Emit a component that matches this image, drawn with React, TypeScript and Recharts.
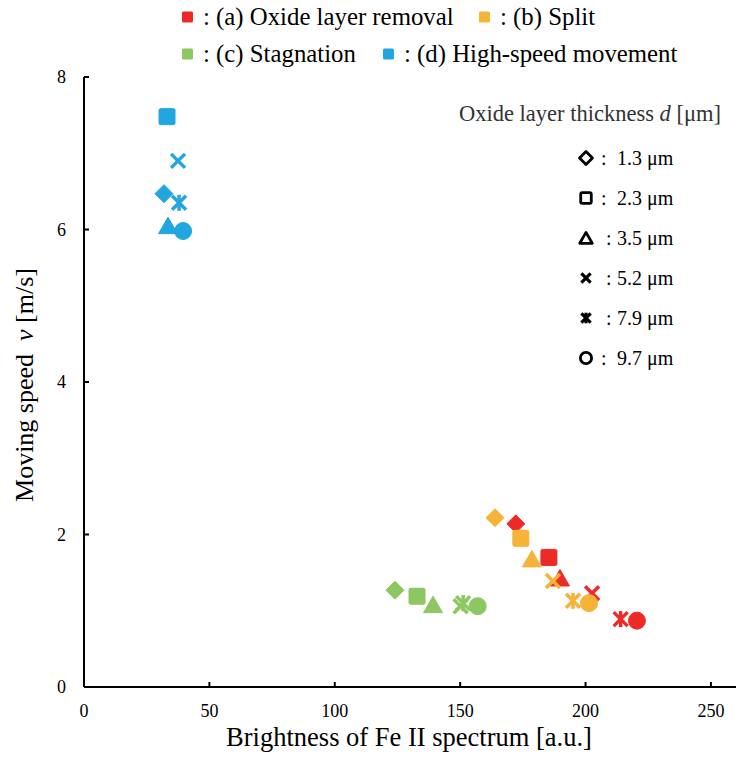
import { Scatter, ScatterChart, XAxis, YAxis } from 'recharts'

// Oxide layer thickness d [um], one marker shape per thickness
const THICKNESS = ['1.3', '2.3', '3.5', '5.2', '7.9', '9.7']
const MARKERS = ['diamond', 'square', 'triangle', 'x', 'star', 'circle']

// (a) Oxide layer removal
const removalX = [172.2, 185.4, 189.8, 202.6, 214, 220.5]
const removalY = [2.14, 1.7, 1.43, 1.23, 0.89, 0.87]
// (b) Split
const splitX = [163.9, 174.2, 178.6, 187, 195, 201.4]
const splitY = [2.22, 1.95, 1.68, 1.39, 1.13, 1.1]
// (c) Stagnation
const stagnationX = [124, 132.8, 139.2, 150.2, 151.2, 157]
const stagnationY = [1.27, 1.19, 1.08, 1.06, 1.1, 1.06]
// (d) High-speed movement
const highSpeedX = [31.9, 33.1, 33.5, 37.5, 37.9, 39.5]
const highSpeedY = [6.47, 7.48, 6.05, 6.9, 6.35, 5.98]

const X_TICKS = [0, 50, 100, 150, 200, 250]
const Y_TICKS = [0, 2, 4, 6, 8]

const FONT = '"Liberation Serif", "Times New Roman", serif'

const GROUPS = [
  { label: '(a) Oxide layer removal', color: '#ee2a26', xs: removalX, ys: removalY },
  { label: '(b) Split', color: '#f5b337', xs: splitX, ys: splitY },
  { label: '(c) Stagnation', color: '#8cc762', xs: stagnationX, ys: stagnationY },
  { label: '(d) High-speed movement', color: '#22a6df', xs: highSpeedX, ys: highSpeedY },
]

const toPoints = (xs: number[], ys: number[]) =>
  xs.map((x, i) => ({ x, y: ys[i], marker: MARKERS[i] }))

// draws one marker; hollow is used for the black legend symbols
function drawMarker(kind: string, cx: number, cy: number, color: string, s = 1, hollow = false) {
  const fill = hollow ? '#fff' : color
  const sw = hollow ? 2.8 : 1
  switch (kind) {
    case 'diamond':
      return (
        <polygon
          points={`${cx},${cy - 9 * s} ${cx + 9 * s},${cy} ${cx},${cy + 9 * s} ${cx - 9 * s},${cy}`}
          fill={fill} stroke={color} strokeWidth={sw} strokeLinejoin='round'
        />
      )
    case 'square':
      return (
        <rect x={cx - 8 * s} y={cy - 8 * s} width={16 * s} height={16 * s} rx={1.5}
          fill={fill} stroke={color} strokeWidth={sw} />
      )
    case 'triangle':
      return (
        <polygon
          points={`${cx},${cy - 8.5 * s} ${cx + 9.5 * s},${cy + 8 * s} ${cx - 9.5 * s},${cy + 8 * s}`}
          fill={fill} stroke={color} strokeWidth={sw} strokeLinejoin='round'
        />
      )
    case 'x':
      return (
        <g stroke={color} strokeWidth={3.5 * Math.max(s, 0.9)}>
          <line x1={cx - 7 * s} y1={cy - 7 * s} x2={cx + 7 * s} y2={cy + 7 * s} />
          <line x1={cx - 7 * s} y1={cy + 7 * s} x2={cx + 7 * s} y2={cy - 7 * s} />
        </g>
      )
    case 'star':
      return (
        <g stroke={color} strokeWidth={3.5 * Math.max(s, 0.9)}>
          <line x1={cx - 7 * s} y1={cy - 7 * s} x2={cx + 7 * s} y2={cy + 7 * s} />
          <line x1={cx - 7 * s} y1={cy + 7 * s} x2={cx + 7 * s} y2={cy - 7 * s} />
          <line x1={cx} y1={cy - 8 * s} x2={cx} y2={cy + 8 * s} />
        </g>
      )
    default:
      return <circle cx={cx} cy={cy} r={8.5 * s} fill={fill} stroke={color} strokeWidth={sw} />
  }
}

const XTick = (props: any) => {
  const { x, y, payload } = props
  return (
    <g>
      <line x1={x} x2={x} y1={y} y2={y - 5} stroke='#000' strokeWidth={2} />
      <text x={x} y={y + 30} textAnchor='middle' fontSize={18} fontFamily={FONT} fill='#000'>
        {payload.value}
      </text>
    </g>
  )
}

const YTick = (props: any) => {
  const { x, y, payload } = props
  return (
    <g>
      <line x1={x} x2={x + 5} y1={y} y2={y} stroke='#000' strokeWidth={2} />
      <text x={x - 18} y={y + 6} textAnchor='end' fontSize={18} fontFamily={FONT} fill='#000'>
        {payload.value}
      </text>
    </g>
  )
}

export default function App() {
  return (
    <div style={{ position: 'absolute', left: 0, top: 0, width: 736, height: 763, background: '#fff' }}>
      <ScatterChart width={736} height={763} margin={{ top: 77, right: 0, bottom: 0, left: 0 }}>
        <XAxis
          type='number' dataKey='x' domain={[0, 260]} ticks={X_TICKS}
          tick={<XTick />} tickLine={false} tickSize={0} tickMargin={0} height={76}
          axisLine={{ stroke: '#000', strokeWidth: 2 }} allowDataOverflow
        />
        <YAxis
          type='number' dataKey='y' domain={[0, 8]} ticks={Y_TICKS}
          tick={<YTick />} tickLine={false} tickSize={0} tickMargin={0} width={84}
          axisLine={{ stroke: '#000', strokeWidth: 2 }}
        />
        {GROUPS.map((g) => (
          <Scatter
            key={g.label}
            name={g.label}
            data={toPoints(g.xs, g.ys)}
            fill={g.color}
            isAnimationActive={false}
            shape={(p: any) => drawMarker(p.payload.marker, p.cx, p.cy, g.color)}
          />
        ))}
      </ScatterChart>

      {/* legends and axis titles */}
      <svg width={736} height={763} style={{ position: 'absolute', left: 0, top: 0, pointerEvents: 'none' }}>
        {GROUPS.map((g, i) => {
          const col = [182, 479, 182, 383][i]
          const cy = i < 2 ? 17 : 54
          return (
            <g key={g.label}>
              <rect x={col} y={cy - 5.5} width={11} height={11} rx={1.5} fill={g.color} />
              <text x={col + 21} y={cy + 8} fontSize={24.8} fontFamily={FONT} fill='#000'
                style={{ whiteSpace: 'pre' }}>
                {': ' + g.label}
              </text>
            </g>
          )
        })}

        <text x={459} y={121} fontSize={22.5} fontFamily={FONT} fill='#333'>
          Oxide layer thickness <tspan fontStyle='italic'>d</tspan> [μm]
        </text>
        {THICKNESS.map((t, i) => {
          const cy = 158 + i * 40
          const shifted = i >= 2 && i <= 4
          const kind = MARKERS[i]
          const solid = kind === 'x' || kind === 'star'
          return (
            <g key={t}>
              {drawMarker(kind, 586, cy, '#000', kind === 'diamond' ? 0.72 : 0.66, !solid)}
              <text x={shifted ? 606 : 601} y={cy + 7} fontSize={20} fontFamily={FONT} fill='#000'>:</text>
              <text x={617} y={cy + 7} fontSize={20} fontFamily={FONT} fill='#000'>
                {t} μm
              </text>
            </g>
          )
        })}

        <text x={409} y={746} textAnchor='middle' fontSize={26.5} fontFamily={FONT} fill='#000'>
          Brightness of Fe II spectrum [a.u.]
        </text>
        <text x={0} y={0} transform='translate(33 385) rotate(-90)' textAnchor='middle'
          fontSize={26} fontFamily={FONT} fill='#000' style={{ whiteSpace: 'pre' }}>
          {'Moving speed  '}<tspan fontStyle='italic'>v</tspan>{' [m/s]'}
        </text>
      </svg>
    </div>
  )
}
